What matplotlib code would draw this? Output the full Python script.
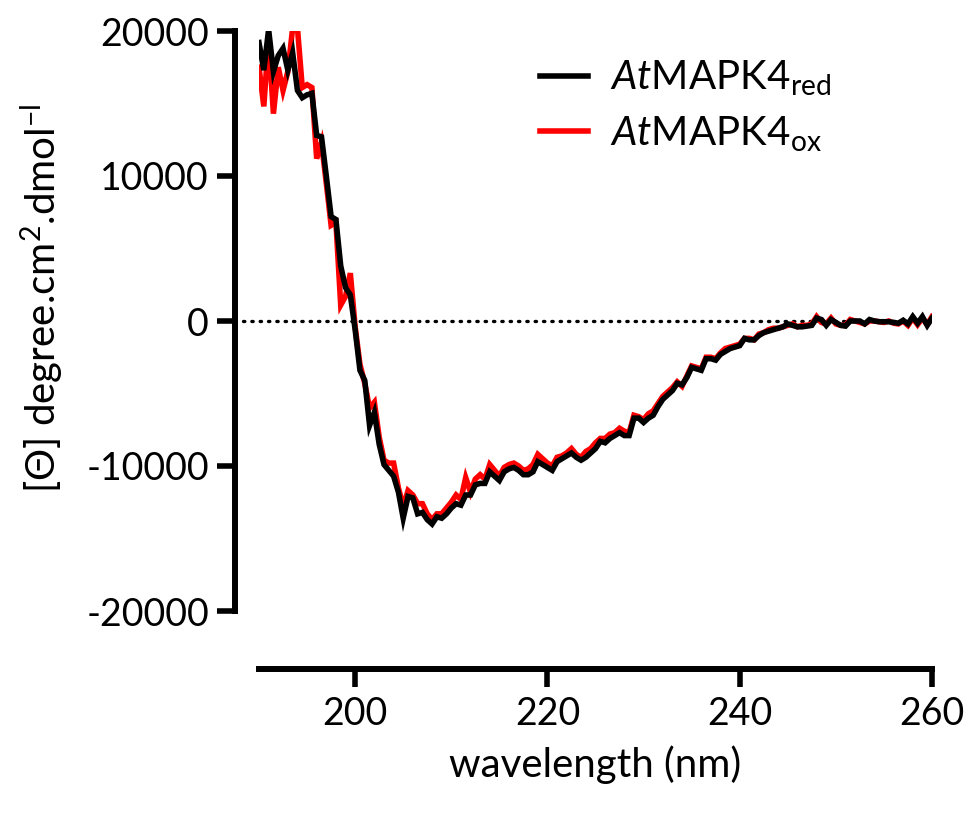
import numpy as np
import matplotlib
matplotlib.use("Agg")
import matplotlib.pyplot as plt

plt.rcParams['font.family'] = ['Lato', 'DejaVu Sans']
plt.rcParams['mathtext.fontset'] = 'custom'
plt.rcParams['mathtext.rm'] = 'Lato'
plt.rcParams['mathtext.it'] = 'Lato:italic'

wavelength = np.arange(190.0, 260.0 + 0.25, 0.5)

theta_red = [
    19200, 17300, 20100, 17200, 18300, 18800, 17300, 18500, 15900, 15400,
    15600, 15700, 12800, 12700, 10000, 7200, 7000, 3800, 2300, 1800,
    -600, -3400, -4100, -7200, -6300, -8500, -9900, -10300, -10700, -11800,
    -13600, -12100, -12200, -13300, -13200, -13700, -14000, -13500, -13600, -13300,
    -12900, -12600, -12700, -12000, -12000, -11300, -11200, -11200, -10400, -10700,
    -11000, -10400, -10200, -10100, -10300, -10600, -10600, -10400, -9700, -9900,
    -10100, -10300, -9700, -9500, -9300, -9100, -9400, -9600, -9400, -9100,
    -8800, -8300, -8400, -8100, -7900, -7700, -7900, -7900, -6700, -6700,
    -7000, -6700, -6500, -5900, -5400, -5100, -4800, -4300, -4400, -3900,
    -3200, -3300, -3400, -2600, -2600, -2700, -2300, -2100, -1900, -1800,
    -1700, -1200, -1300, -1300, -1000, -800, -700, -600, -500, -400,
    -200, -300, -400, -400, -350, -300, 200, 100, -300, 100,
    -100, -300, -350, 0, 0, 0, -200, 100, 0, -50,
    -50, -50, -100, -150, 50, -200, 300, -150, 300, -300,
    200,
]

theta_ox = [
    17500, 14800, 19500, 14300, 17500, 15900, 17200, 20200, 20200, 16100,
    16300, 16100, 11200, 12300, 9500, 6600, 6800, 1100, 1700, 3300,
    -400, -3000, -4300, -6000, -5600, -8000, -9600, -9800, -9800, -11500,
    -12800, -11700, -12000, -12600, -12600, -13300, -13700, -13300, -13300, -12900,
    -12500, -12000, -12300, -10800, -11800, -10900, -10600, -10900, -9900, -10300,
    -10700, -10100, -9900, -9800, -10000, -10300, -10200, -9900, -9200, -9500,
    -9800, -10000, -9400, -9300, -9100, -8800, -9200, -9400, -9000, -8800,
    -8400, -8100, -8100, -7800, -7700, -7400, -7600, -7700, -6500, -6600,
    -6800, -6400, -6200, -5700, -5200, -4900, -4600, -4200, -4500, -3800,
    -3100, -3200, -3300, -2500, -2500, -2600, -2200, -1900, -1800, -1700,
    -1600, -1200, -1200, -1300, -900, -800, -600, -500, -500, -400,
    -300, -200, -400, -300, -300, -200, 300, -100, -200, 200,
    -200, -300, -300, 100, 0, -100, -200, 0, 0, -50,
    -100, 0, -150, -200, 0, -300, 200, -250, 200, -250,
    300,
]

x_ticks = [200, 220, 240, 260]
y_ticks = [-20000, -10000, 0, 10000, 20000]
labels = [r"$\mathit{At}\mathrm{MAPK4}_{\mathrm{red}}$",
          r"$\mathit{At}\mathrm{MAPK4}_{\mathrm{ox}}$"]

fig = plt.figure(figsize=(9.68, 8.14), dpi=100)
ax = fig.add_axes([259/968, 1 - 611/814, (932-259)/968, (611-31)/814])

l_ox, = ax.plot(wavelength, theta_ox, color='#FF0000', lw=4.0, solid_joinstyle='miter', zorder=3)
l_red, = ax.plot(wavelength, theta_red, color='black', lw=4.0, solid_joinstyle='miter', zorder=4)
ax.axhline(0, xmin=-0.024, xmax=1.0, color='black', lw=2.4, ls=(0, (0.4, 2.1)),
           dash_capstyle='round', clip_on=False, zorder=2)

ax.set_xlim(190, 260)
ax.set_ylim(-20000, 20000)
ax.set_xticks(x_ticks)
ax.set_yticks(y_ticks)
ax.set_yticklabels([str(v) for v in y_ticks])

for s in ['top', 'right']:
    ax.spines[s].set_visible(False)
ax.spines['left'].set_position(('outward', 17))
ax.spines['bottom'].set_position(('outward', 42))
for s in ['left', 'bottom']:
    ax.spines[s].set_linewidth(4.3)
    ax.spines[s].set_capstyle('projecting')
ax.tick_params(axis='both', width=4.0, length=13, labelsize=27, pad=6, colors='black')

ax.set_xlabel('wavelength (nm)', fontsize=29, labelpad=10)
ax.set_ylabel(r'[$\Theta$] degree.cm$^{2}$.dmol$^{\mathregular{-l}}$', fontsize=29)
ax.yaxis.set_label_coords(-0.289, 0.54)

ax.legend([l_red, l_ox], labels, loc='upper left', bbox_to_anchor=(0.4175, 0.952),
          frameon=False, fontsize=29, handlelength=1.2, handletextpad=0.55,
          labelspacing=0.4, borderpad=0, borderaxespad=0)

fig.savefig('out.png', dpi=100)
